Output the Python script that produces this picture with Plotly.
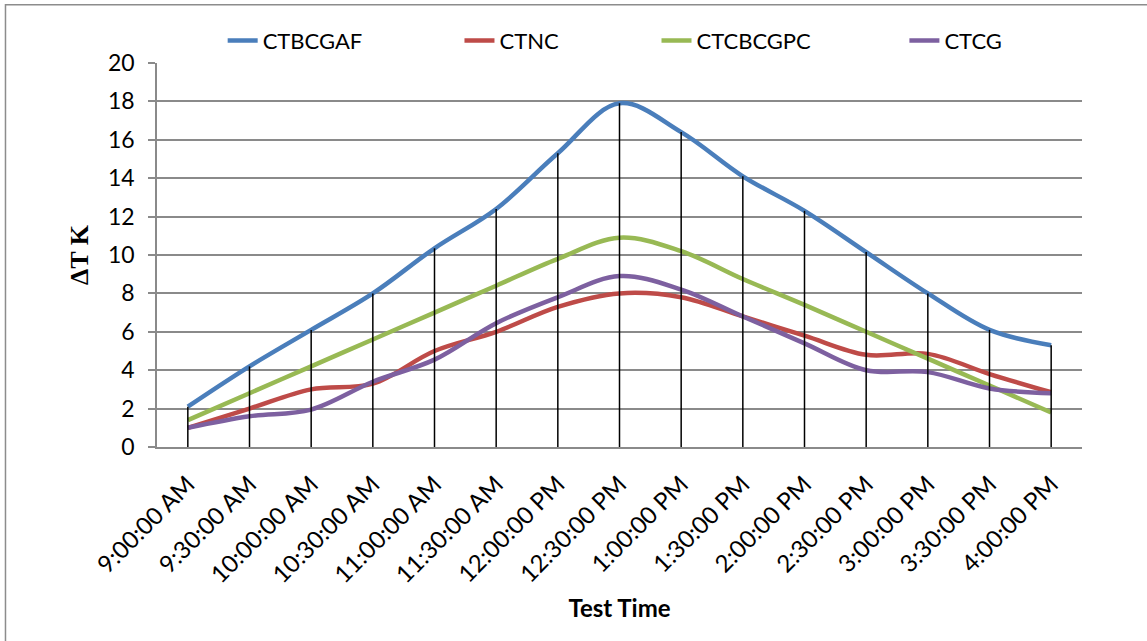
import plotly.graph_objects as go

times = ["9:00:00 AM", "9:30:00 AM", "10:00:00 AM", "10:30:00 AM", "11:00:00 AM",
         "11:30:00 AM", "12:00:00 PM", "12:30:00 PM", "1:00:00 PM", "1:30:00 PM",
         "2:00:00 PM", "2:30:00 PM", "3:00:00 PM", "3:30:00 PM", "4:00:00 PM"]

ctbcgaf = [2.1, 4.2, 6.1, 8.0, 10.35, 12.4, 15.3, 17.9, 16.4, 14.1, 12.3, 10.15, 8.0, 6.1, 5.3]
ctnc = [1.0, 2.0, 3.0, 3.3, 5.0, 6.0, 7.3, 8.0, 7.8, 6.8, 5.8, 4.8, 4.85, 3.8, 2.85]
ctcbcgpc = [1.4, 2.8, 4.2, 5.6, 7.0, 8.4, 9.8, 10.9, 10.2, 8.75, 7.4, 6.0, 4.6, 3.2, 1.8]
ctcg = [1.0, 1.6, 1.95, 3.4, 4.55, 6.45, 7.8, 8.9, 8.2, 6.8, 5.4, 4.0, 3.9, 3.05, 2.8]

series = [
    ("CTBCGAF", ctbcgaf, "#4A7EBB", "legend"),
    ("CTNC", ctnc, "#BE4B48", "legend2"),
    ("CTCBCGPC", ctcbcgpc, "#98B954", "legend3"),
    ("CTCG", ctcg, "#7D60A0", "legend4"),
]

fig = go.Figure()

for name, vals, color, leg in series:
    fig.add_trace(go.Scatter(
        x=times, y=vals, name=name, mode="lines",
        line=dict(color=color, width=4.5, shape="spline", smoothing=1.0),
        legend=leg,
    ))

# drop lines from the highest series down to the axis
top = [max(v) for v in zip(ctbcgaf, ctnc, ctcbcgpc, ctcg)]
dx, dy = [], []
for t, v in zip(times, top):
    dx += [t, t, None]
    dy += [0, v, None]
fig.add_trace(go.Scatter(x=dx, y=dy, mode="lines", line=dict(color="black", width=1.5),
                         showlegend=False, hoverinfo="skip"))

grid = "#8A8A8A"
font = "Lato, 'Open Sans', sans-serif"

leg_common = dict(orientation="h", yanchor="middle", xanchor="left",
                  font=dict(family=font, size=22, color="black"),
                  bgcolor="rgba(0,0,0,0)")
fig.update_layout(
    width=1147, height=641,
    margin=dict(l=157, r=65, t=63, b=194, autoexpand=False),
    paper_bgcolor="white", plot_bgcolor="white",
    font=dict(family=font, color="black"),
    legend=dict(x=0.071, y=1.058, **leg_common),
    legend2=dict(x=0.327, y=1.058, **leg_common),
    legend3=dict(x=0.540, y=1.058, **leg_common),
    legend4=dict(x=0.808, y=1.058, **leg_common),
    shapes=[dict(type="rect", xref="paper", yref="paper",
                 x0=-0.1638, x1=1.3, y0=-0.7, y1=1.152,
                 line=dict(color="#8C8C8C", width=1.5), fillcolor="rgba(0,0,0,0)",
                 layer="below")],
)

fig.update_xaxes(
    type="category", range=[-0.5, 14.5],
    showgrid=False, showline=True, linecolor=grid, linewidth=1.5,
    ticks="", tickangle=-45, automargin=False, ticklabelstandoff=12,
    tickfont=dict(family=font, size=24, color="black"),
    title=dict(text="<b>Test Time</b>", font=dict(family=font, size=24, color="black"), standoff=13),
)
fig.update_yaxes(
    range=[0, 20], dtick=2, tick0=0, automargin=False,
    showgrid=True, gridcolor=grid, gridwidth=1.5,
    showline=True, linecolor=grid, linewidth=1.5,
    ticks="outside", ticklen=7, tickcolor=grid, tickwidth=1.5,
    ticklabelstandoff=9,
    tickfont=dict(family=font, size=23, color="black"),
    zeroline=False,
    title=dict(text="<b>ΔT K</b>", font=dict(family="Liberation Serif, serif", size=26, color="black"), standoff=12),
)

fig.write_html("out.html", config={"displayModeBar": False},
               post_script="document.body.style.margin='0';")
